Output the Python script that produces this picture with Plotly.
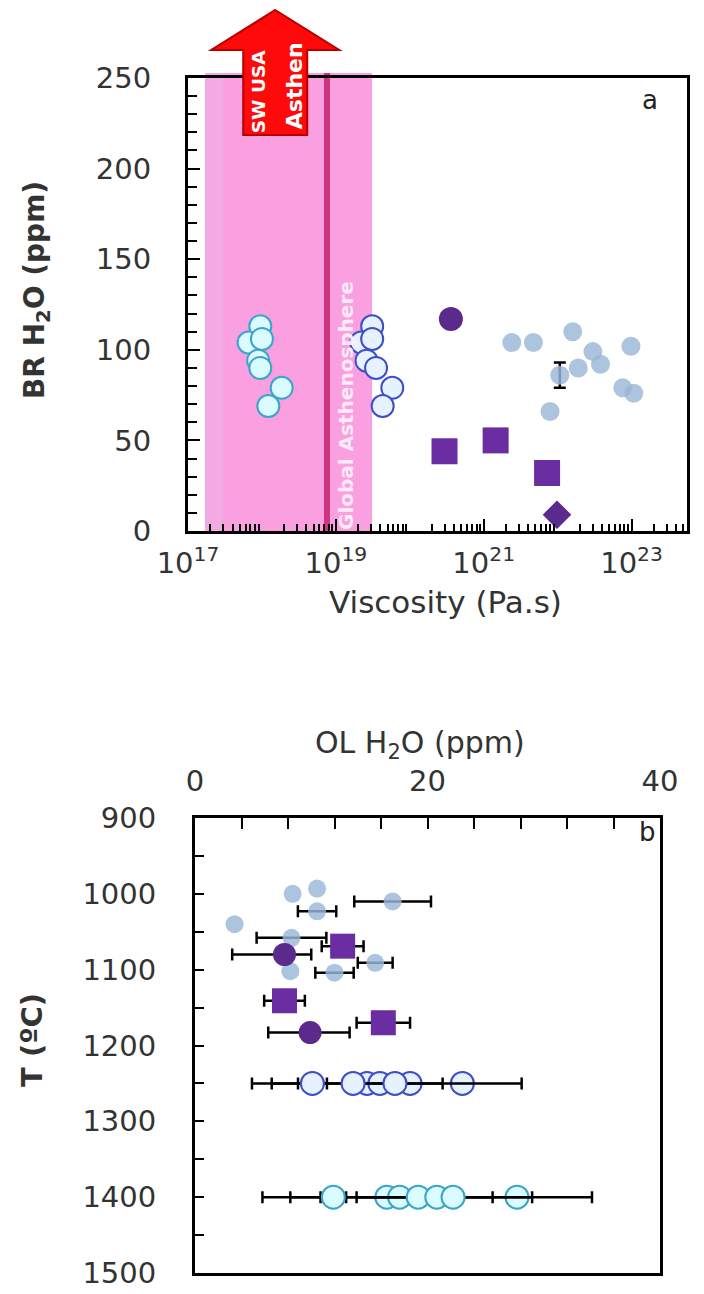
import plotly.graph_objects as go

W, H = 704, 1294


def px(x):
    return x / W


def py(y):
    return 1 - y / H


# ---------------- Panel a data: BR H2O (ppm) vs viscosity (Pa.s) ----------------
cyan_visc = [9.5e17, 6.6e17, 1.0e18, 8.9e17, 9.5e17, 1.85e18, 1.22e18]
cyan_br = [113, 104, 106, 94, 90, 79, 69]

blue_visc = [3.1e19, 2.2e19, 3.1e19, 2.6e19, 3.5e19, 5.8e19, 4.3e19]
blue_br = [113, 104, 106, 94, 90, 79, 69]

lb_visc = [2.4e21, 4.7e21, 1.6e22, 3.0e22, 9.8e22, 1.9e22, 3.8e22, 1.07e22, 1.07e23, 7.6e22, 7.9e21]
lb_br = [104, 104, 110, 99, 102, 90, 92, 86, 76, 79, 66]
lb_err = [None, None, None, None, None, None, None, 7, None, None, None]

pc_visc = [3.6e20]
pc_br = [117]

sq_visc = [2.95e20, 1.45e21, 7.2e21]
sq_br = [44, 50, 32]

dm_visc = [9.8e21]
dm_br = [9]

# band / line / arrow (log10 Pa.s)
band_log = [17.23, 19.49]
asth_line_log = 18.88
arrow_log = 18.18

xt_vals = [1e17, 1e19, 1e21, 1e23]
xt_text = ["10<sup>17</sup>", "10<sup>19</sup>", "10<sup>21</sup>", "10<sup>23</sup>"]

# ---------------- Panel b data: T (C) vs OL H2O (ppm) ----------------
b_lb_x = [8.4, 10.5, 10.5, 17.0, 3.4, 8.3, 8.2, 12.0, 15.5]
b_lb_T = [1000, 993, 1023, 1010, 1040, 1058, 1102, 1104, 1091]
b_lb_lo = [None, None, 1.65, 3.3, None, 3.0, None, 1.65, 1.5]
b_lb_hi = [None, None, 1.65, 3.3, None, 3.0, None, 1.65, 1.5]

b_pc_x = [7.7, 9.9]
b_pc_T = [1080, 1183]
b_pc_lo = [4.5, 3.6]
b_pc_hi = [2.3, 3.4]

b_sq_x = [12.7, 7.7, 16.2]
b_sq_T = [1069, 1141, 1170]
b_sq_lo = [1.8, 1.75, 2.3]
b_sq_hi = [1.8, 1.75, 2.3]

r1250_x = [10.1, 13.6, 14.8, 15.9, 17.2, 18.5, 23.0]
r1250_T = [1250] * 7
r1250_lo = [1.24, 8.7, None, None, 10.6, None, None]
r1250_hi = [1.25, 7.7, None, None, 10.9, None, None]

r1400_x = [11.9, 16.5, 17.6, 19.2, 20.8, 22.2, 27.7]
r1400_T = [1400] * 7
r1400_lo = [1.1, None, None, 11.0, 15.0, 8.3, None]
r1400_hi = [1.1, None, None, 9.8, 13.35, 3.4, None]

# ---------------- styles ----------------
CYAN_FILL, CYAN_LINE = "#dafbff", "#3aa5c8"
BLUE_FILL, BLUE_LINE = "#e6f2ff", "#3d4ec6"
LB = "rgba(155,183,215,0.82)"
PURPLE_C = "#5a2a8c"
PURPLE_S = "#6a2ea2"
FONT = "DejaVu Sans"
TICKFONT = dict(family=FONT, size=29, color="#333333")
EB = dict(color="black", thickness=2.5, width=6)

XA_DOM = [px(188), px(687)]
XA_RANGE = [17, 23.75]


def xlog_paper(v):
    return XA_DOM[0] + (v - XA_RANGE[0]) / (XA_RANGE[1] - XA_RANGE[0]) * (XA_DOM[1] - XA_DOM[0])


fig = go.Figure()


def add_points(x, y, marker, xa, ya, lo=None, hi=None, vertical=False):
    """Points without error bars, then points with error bars (as separate traces)."""
    n = len(x)
    lo = lo if lo is not None else [None] * n
    hi = hi if hi is not None else lo
    plain = [i for i in range(n) if lo[i] is None]
    errd = [i for i in range(n) if lo[i] is not None]
    if plain:
        fig.add_trace(go.Scatter(x=[x[i] for i in plain], y=[y[i] for i in plain], mode="markers",
                                 xaxis=xa, yaxis=ya, marker=marker))
    if errd:
        err = dict(type="data", symmetric=False, array=[hi[i] for i in errd],
                   arrayminus=[lo[i] for i in errd], **EB)
        kw = {"error_y": err} if vertical else {"error_x": err}
        fig.add_trace(go.Scatter(x=[x[i] for i in errd], y=[y[i] for i in errd], mode="markers",
                                 xaxis=xa, yaxis=ya, marker=marker, **kw))


# panel a traces
add_points(cyan_visc, cyan_br, dict(size=22, color=CYAN_FILL, line=dict(color=CYAN_LINE, width=2)), "x", "y")
add_points(blue_visc, blue_br, dict(size=22, color=BLUE_FILL, line=dict(color=BLUE_LINE, width=2)), "x", "y")
add_points(lb_visc, lb_br, dict(size=19, color=LB, line=dict(width=0)), "x", "y", lo=lb_err, vertical=True)
add_points(pc_visc, pc_br, dict(size=24, color=PURPLE_C, line=dict(width=0)), "x", "y")
add_points(sq_visc, sq_br, dict(size=26, symbol="square", color=PURPLE_S, line=dict(width=0)), "x", "y")
add_points(dm_visc, dm_br, dict(size=22, symbol="diamond", color=PURPLE_C, line=dict(width=0)), "x", "y")

# panel b traces
add_points(b_lb_x, b_lb_T, dict(size=18, color=LB, line=dict(width=0)), "x2", "y2", b_lb_lo, b_lb_hi)
add_points(b_pc_x, b_pc_T, dict(size=23, color=PURPLE_C, line=dict(width=0)), "x2", "y2", b_pc_lo, b_pc_hi)
add_points(b_sq_x, b_sq_T, dict(size=25, symbol="square", color=PURPLE_S, line=dict(width=0)), "x2", "y2",
           b_sq_lo, b_sq_hi)
add_points(r1250_x, r1250_T, dict(size=23, color=BLUE_FILL, line=dict(color=BLUE_LINE, width=2)), "x2", "y2",
           r1250_lo, r1250_hi)
add_points(r1400_x, r1400_T, dict(size=23, color=CYAN_FILL, line=dict(color=CYAN_LINE, width=2)), "x2", "y2",
           r1400_lo, r1400_hi)

minor_log = [k * 10.0 ** d for d in range(17, 24) for k in range(2, 10) if k * 10.0 ** d < 10 ** 23.75]

axis_common = dict(showline=True, linewidth=3, linecolor="black", mirror=True, showgrid=False,
                   zeroline=False, ticks="inside", tickcolor="black", tickwidth=2, tickfont=TICKFONT,
                   automargin=False)

fig.update_layout(
    width=W, height=H, margin=dict(l=0, r=0, t=0, b=0, autoexpand=False),
    paper_bgcolor="white", plot_bgcolor="rgba(0,0,0,0)", showlegend=False,
    xaxis=dict(domain=XA_DOM, anchor="y", type="log", range=XA_RANGE,
               tickmode="array", tickvals=xt_vals, ticktext=xt_text, ticklen=12, ticklabelstandoff=4,
               minor=dict(tickvals=minor_log, ticks="inside", ticklen=7, tickwidth=2, tickcolor="black"),
               **axis_common),
    yaxis=dict(domain=[py(531), py(78)], anchor="x", range=[0, 250], dtick=50, ticklen=12,
               ticklabelstandoff=28,
               minor=dict(dtick=10, ticks="inside", ticklen=9, tickwidth=2, tickcolor="black"),
               **axis_common),
    xaxis2=dict(domain=[px(195), px(660)], anchor="y2", side="top", range=[0, 40],
                tickvals=[0, 20, 40], ticklen=11, ticklabelstandoff=12,
                minor=dict(dtick=4, ticks="inside", ticklen=11, tickwidth=2, tickcolor="black"),
                **axis_common),
    yaxis2=dict(domain=[py(1273), py(818)], anchor="x2", range=[1500, 900], dtick=100, ticklen=9,
                ticklabelstandoff=30,
                minor=dict(dtick=50, ticks="inside", ticklen=9, tickwidth=2, tickcolor="black"),
                **axis_common),
)

bx0, bx1 = xlog_paper(band_log[0]), xlog_paper(band_log[1])
lx = xlog_paper(asth_line_log)
shapes = [
    dict(type="rect", xref="paper", yref="paper", x0=bx0, x1=bx1, y0=py(531), y1=py(73),
         fillcolor="#fa9fdf", line=dict(width=0), layer="below"),
    dict(type="rect", xref="paper", yref="paper", x0=bx0, x1=bx0 + px(18), y0=py(531), y1=py(73),
         fillcolor="#f3a9e2", line=dict(width=0), layer="below"),
    dict(type="line", xref="paper", yref="paper", x0=lx, x1=lx, y0=py(531), y1=py(73),
         line=dict(color="#cf357f", width=6), layer="below"),
]
ac = xlog_paper(arrow_log)
arrow_pts = [(0, 10), (64, 50), (32, 50), (32, 135), (-32, 135), (-32, 50), (-64, 50)]
path = "M " + " L ".join(f"{ac + px(a):.5f},{py(b):.5f}" for a, b in arrow_pts) + " Z"
shapes.append(dict(type="path", xref="paper", yref="paper", path=path, fillcolor="#ff0a0a",
                   line=dict(color="#b80000", width=2), layer="above"))
fig.update_layout(shapes=shapes)

ann = [
    dict(x=ac - px(17), y=py(91), text="<b>SW USA</b>", textangle=-90, font=dict(family=FONT, size=18.5, color="white")),
    dict(x=ac + px(19), y=py(86), text="<b>Asthen</b>", textangle=-90, font=dict(family=FONT, size=22, color="white")),
    dict(x=lx + px(19), y=py(405), text="<b>Global Asthenosphere</b>", textangle=-90,
         font=dict(family=FONT, size=20, color="rgba(255,240,250,0.95)")),
    dict(x=px(650), y=py(100), text="a", font=dict(family=FONT, size=26, color="#222")),
    dict(x=px(647), y=py(832), text="b", font=dict(family=FONT, size=26, color="#222")),
    dict(x=px(36), y=py(290), text="<b>BR H<sub>2</sub>O (ppm)</b>", textangle=-90,
         font=dict(family=FONT, size=28, color="#333")),
    dict(x=px(445), y=py(602), text="Viscosity (Pa.s)", font=dict(family=FONT, size=31, color="#333")),
    dict(x=px(420), y=py(745), text="OL H<sub>2</sub>O (ppm)", font=dict(family=FONT, size=30, color="#333")),
    dict(x=px(32), y=py(1040), text="<b>T (ºC)</b>", textangle=-90, font=dict(family=FONT, size=29, color="#333")),
]
for a in ann:
    a.update(xref="paper", yref="paper", showarrow=False, xanchor="center", yanchor="middle")
fig.update_layout(annotations=ann)

fig.write_html("out.html")
